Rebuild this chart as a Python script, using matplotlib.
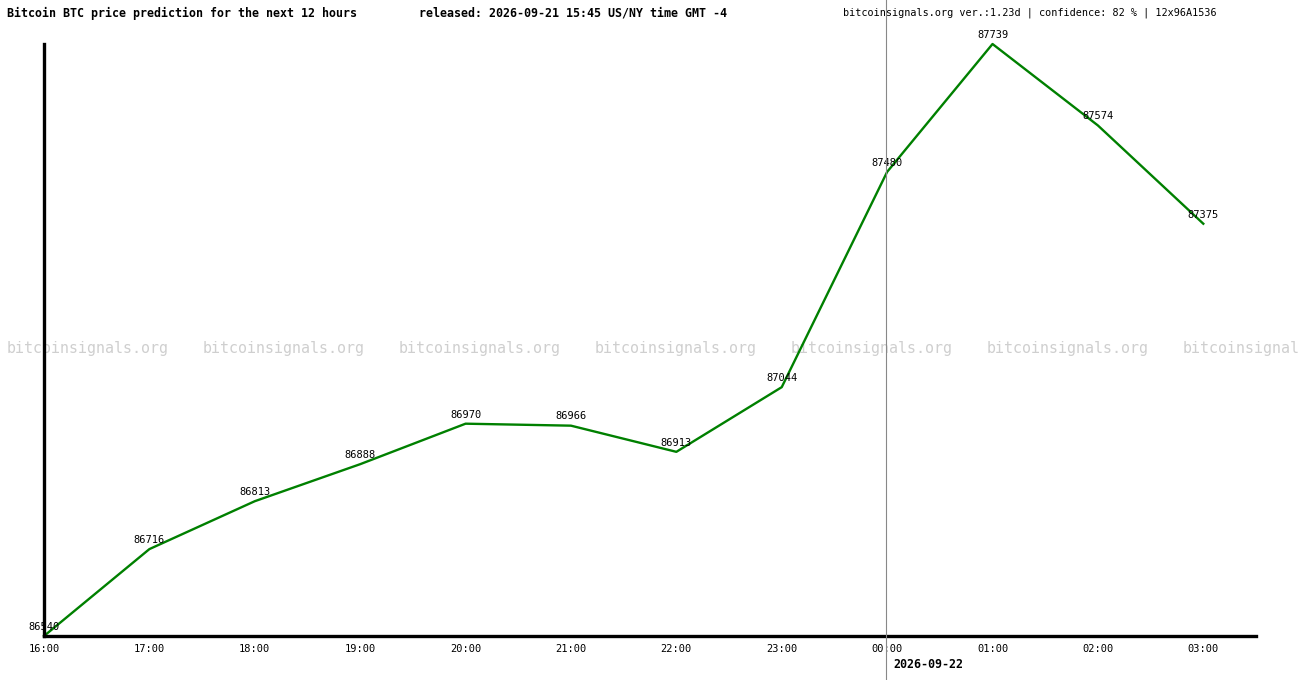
import matplotlib
matplotlib.use("Agg")
import matplotlib.pyplot as plt
from matplotlib.lines import Line2D

hours = ["16:00", "17:00", "18:00", "19:00", "20:00", "21:00",
         "22:00", "23:00", "00:00", "01:00", "02:00", "03:00"]
prices = [86540, 86716, 86813, 86888, 86970, 86966,
          86913, 87044, 87480, 87739, 87574, 87375]
title_txt = "Bitcoin BTC price prediction for the next 12 hours"
released_txt = "released: 2026-09-21 15:45 US/NY time GMT -4"
info_txt = "bitcoinsignals.org ver.:1.23d | confidence: 82 % | 12x96A1536"
date_txt = "2026-09-22"
watermark = "bitcoinsignals.org"

W, H = 1300, 680
mono = "DejaVu Sans Mono"

fig = plt.figure(figsize=(W / 100, H / 100), dpi=100)
fig.patch.set_facecolor("white")

# watermark band in the middle (the last copy runs off the right edge, as on the site)
for i in range(7):
    fig.text((7 + 196 * i) / W, 1 - 348 / H, watermark, family=mono,
             fontsize=10.8, color="#cfcfcf", va="center", ha="left", zorder=-1)

ax = fig.add_axes([44 / W, 44 / H, (1256 - 44) / W, (636 - 44) / H])
ax.patch.set_alpha(0)
x = list(range(len(hours)))
ax.plot(x, prices, color="#008000", lw=1.7, solid_joinstyle="round", clip_on=False)
for xi, p in zip(x, prices):
    ax.annotate(str(p), (xi, p), xytext=(0, 3), textcoords="offset points",
                ha="center", va="bottom", family=mono, fontsize=7.5, color="black")

ax.set_xlim(0, 11.5)
ax.set_ylim(prices[0], max(prices))
ax.set_xticks(x)
ax.set_xticklabels(hours, family=mono, fontsize=7.5)
ax.tick_params(axis="x", length=0, pad=6)
ax.set_yticks([])
for s in ["top", "right"]:
    ax.spines[s].set_visible(False)
ax.spines["left"].set_linewidth(2.4)
ax.spines["bottom"].set_linewidth(2.4)

fig.text(7 / W, 1 - 13 / H, title_txt, family=mono, fontsize=8.4,
         fontweight="bold", va="center", ha="left")
fig.text(419 / W, 1 - 13 / H, released_txt, family=mono, fontsize=8.4,
         fontweight="bold", va="center", ha="left")
fig.text(843 / W, 1 - 13 / H, info_txt, family=mono, fontsize=7.3,
         va="center", ha="left")
fig.text(893 / W, 1 - 664 / H, date_txt, family=mono, fontsize=8.4,
         fontweight="bold", va="center", ha="left")

fig.add_artist(Line2D([886 / W, 886 / W], [0, 1], color="#888888", lw=0.8, zorder=10))

fig.savefig("out.png", dpi=100)
